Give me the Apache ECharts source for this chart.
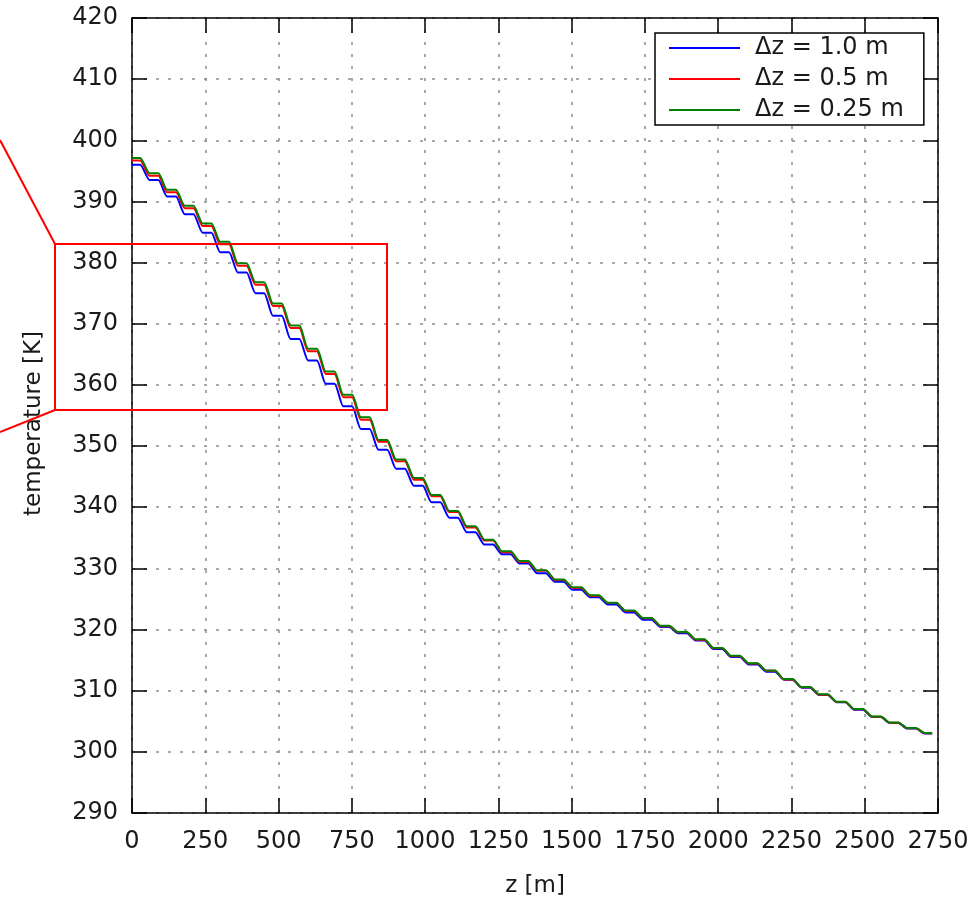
<!DOCTYPE html>
<html>
<head>
<meta charset="utf-8">
<script src="https://cdn.jsdelivr.net/npm/echarts@6/dist/echarts.min.js"></script>
<style>
html,body{margin:0;padding:0;background:#fff;}
#chart{width:973px;height:903px;}
</style>
</head>
<body>
<div id="chart"></div>
<script>
// ---- data ----
const xTicks = [0, 250, 500, 750, 1000, 1250, 1500, 1750, 2000, 2250, 2500, 2750];
const yTicks = [290, 300, 310, 320, 330, 340, 350, 360, 370, 380, 390, 400, 410, 420];
const seriesNames = ['\u0394z = 1.0 m', '\u0394z = 0.5 m', '\u0394z = 0.25 m'];

// start and end depth [m] of each plateau of the staircase curve
const zFlatStart = [0, 60, 120, 180, 241, 301, 361, 421, 481, 541, 601, 661, 721, 781, 841, 901,
  962, 1022, 1082, 1142, 1202, 1262, 1322, 1382, 1443, 1503, 1563, 1623, 1683, 1743, 1803, 1863,
  1923, 1984, 2044, 2104, 2164, 2224, 2284, 2344, 2404, 2464, 2525, 2585, 2645, 2705];
const zFlatEnd = [28, 90, 150, 210, 271, 331, 391, 451, 511, 571, 631, 691, 751, 811, 871, 931,
  992, 1052, 1112, 1172, 1232, 1292, 1352, 1412, 1473, 1533, 1593, 1653, 1713, 1773, 1833, 1893,
  1953, 2014, 2074, 2134, 2194, 2254, 2314, 2374, 2434, 2494, 2555, 2615, 2675, 2730];

// plateau temperatures [K]
const tempDz100 = [396.0, 393.5, 390.8, 387.9, 384.9, 381.7, 378.4, 375.0, 371.3, 367.5, 364.0,
  360.2, 356.5, 352.8, 349.4, 346.3, 343.5, 340.8, 338.3, 335.9, 333.9, 332.3, 330.8, 329.2,
  327.8, 326.5, 325.3, 324.1, 322.8, 321.6, 320.4, 319.4, 318.2, 316.8, 315.5, 314.3, 313.1,
  311.8, 310.5, 309.3, 308.1, 306.9, 305.7, 304.7, 303.8, 303.0];
const tempDz050 = [396.7, 394.2, 391.5, 388.9, 386.0, 383.0, 379.5, 376.4, 372.9, 369.3, 365.5,
  361.8, 358.0, 354.3, 350.7, 347.5, 344.5, 341.8, 339.2, 336.7, 334.55, 332.65, 331.05, 329.6,
  328.1, 326.8, 325.5, 324.35, 323.05, 321.85, 320.55, 319.55, 318.35, 316.95, 315.65, 314.45,
  313.25, 311.85, 310.55, 309.35, 308.15, 306.95, 305.75, 304.75, 303.85, 303.05];
const tempDz025 = [397.1, 394.6, 391.9, 389.3, 386.4, 383.4, 379.9, 376.8, 373.3, 369.7, 365.9,
  362.2, 358.4, 354.7, 351.0, 347.8, 344.8, 342.0, 339.4, 336.9, 334.7, 332.8, 331.2, 329.7,
  328.2, 326.9, 325.6, 324.4, 323.1, 321.9, 320.6, 319.6, 318.4, 317.0, 315.7, 314.5, 313.3,
  311.9, 310.6, 309.4, 308.2, 307.0, 305.8, 304.8, 303.9, 303.1];

const seriesColors = ['#0000ff', '#ff0000', '#008000'];

function buildPoints(temps) {
  const pts = [];
  for (let k = 0; k < temps.length; k++) {
    pts.push([zFlatStart[k], temps[k]]);
    pts.push([zFlatEnd[k], temps[k]]);
  }
  return pts;
}

const FONT = 'DejaVu Sans';
const chart = echarts.init(document.getElementById('chart'), null, {renderer: 'canvas'});

const gridLine = {show: true, lineStyle: {color: '#8c8c8c', width: 1.5, type: [3, 9]}};
const axisLine = {show: true, onZero: false, lineStyle: {color: '#000', width: 1.5}};
const tick = {show: true, inside: true, length: 15, lineStyle: {color: '#000', width: 1.5}};

const option = {
  animation: false,
  backgroundColor: '#fff',
  textStyle: {fontFamily: FONT},
  grid: {left: 132, right: 35, top: 18, bottom: 89.5, containLabel: false},
  xAxis: [{
    type: 'value', min: xTicks[0], max: xTicks[xTicks.length - 1], interval: 250,
    position: 'bottom',
    name: 'z [m]', nameLocation: 'middle', nameGap: 62,
    nameTextStyle: {fontSize: 23, color: '#1a1a1a', fontFamily: FONT},
    axisLine: axisLine, axisTick: tick, splitLine: gridLine,
    axisLabel: {fontSize: 24, color: '#1a1a1a', margin: 17, fontFamily: FONT,
      formatter: v => String(v)}
  }, {
    type: 'value', min: xTicks[0], max: xTicks[xTicks.length - 1], interval: 250,
    position: 'top',
    axisLine: axisLine, axisTick: tick, splitLine: {show: false},
    axisLabel: {show: false}
  }],
  yAxis: [{
    type: 'value', min: yTicks[0], max: yTicks[yTicks.length - 1], interval: 10,
    position: 'left',
    name: 'temperature [K]', nameLocation: 'middle', nameGap: 86, nameRotate: 90,
    nameTextStyle: {fontSize: 23, color: '#1a1a1a', fontFamily: FONT, padding: [0, 16, 0, 0]},
    axisLine: axisLine, axisTick: tick, splitLine: gridLine,
    axisLabel: {fontSize: 24, color: '#1a1a1a', margin: 14, fontFamily: FONT}
  }, {
    type: 'value', min: yTicks[0], max: yTicks[yTicks.length - 1], interval: 10,
    position: 'right',
    axisLine: axisLine, axisTick: tick, splitLine: {show: false},
    axisLabel: {show: false}
  }],
  legend: {
    left: 655, top: 33, orient: 'vertical',
    backgroundColor: '#fff', borderColor: '#000', borderWidth: 1.5, borderRadius: 0,
    padding: [3, 20, 3, 14],
    itemWidth: 71, itemHeight: 2, itemGap: 7, icon: 'rect',
    data: seriesNames,
    textStyle: {fontSize: 24, color: '#1a1a1a', fontFamily: FONT, padding: [0, 0, 0, 10]}
  },
  series: [tempDz100, tempDz050, tempDz025].map((t, i) => ({
    name: seriesNames[i], type: 'line', xAxisIndex: 0, yAxisIndex: 0,
    data: buildPoints(t), showSymbol: false, symbol: 'none',
    smooth: 0.2,
    color: seriesColors[i],
    lineStyle: {color: seriesColors[i], width: 2},
    z: 3 + i
  })),
  graphic: [
    {type: 'rect', z: 100, shape: {x: 55, y: 244, width: 332, height: 166},
     style: {fill: 'none', stroke: '#ff0000', lineWidth: 2}},
    {type: 'line', z: 100, shape: {x1: 0, y1: 140, x2: 55, y2: 244},
     style: {stroke: '#ff0000', lineWidth: 2}},
    {type: 'line', z: 100, shape: {x1: 0, y1: 432, x2: 55, y2: 410},
     style: {stroke: '#ff0000', lineWidth: 2}}
  ]
};
chart.setOption(option);
</script>
</body>
</html>
